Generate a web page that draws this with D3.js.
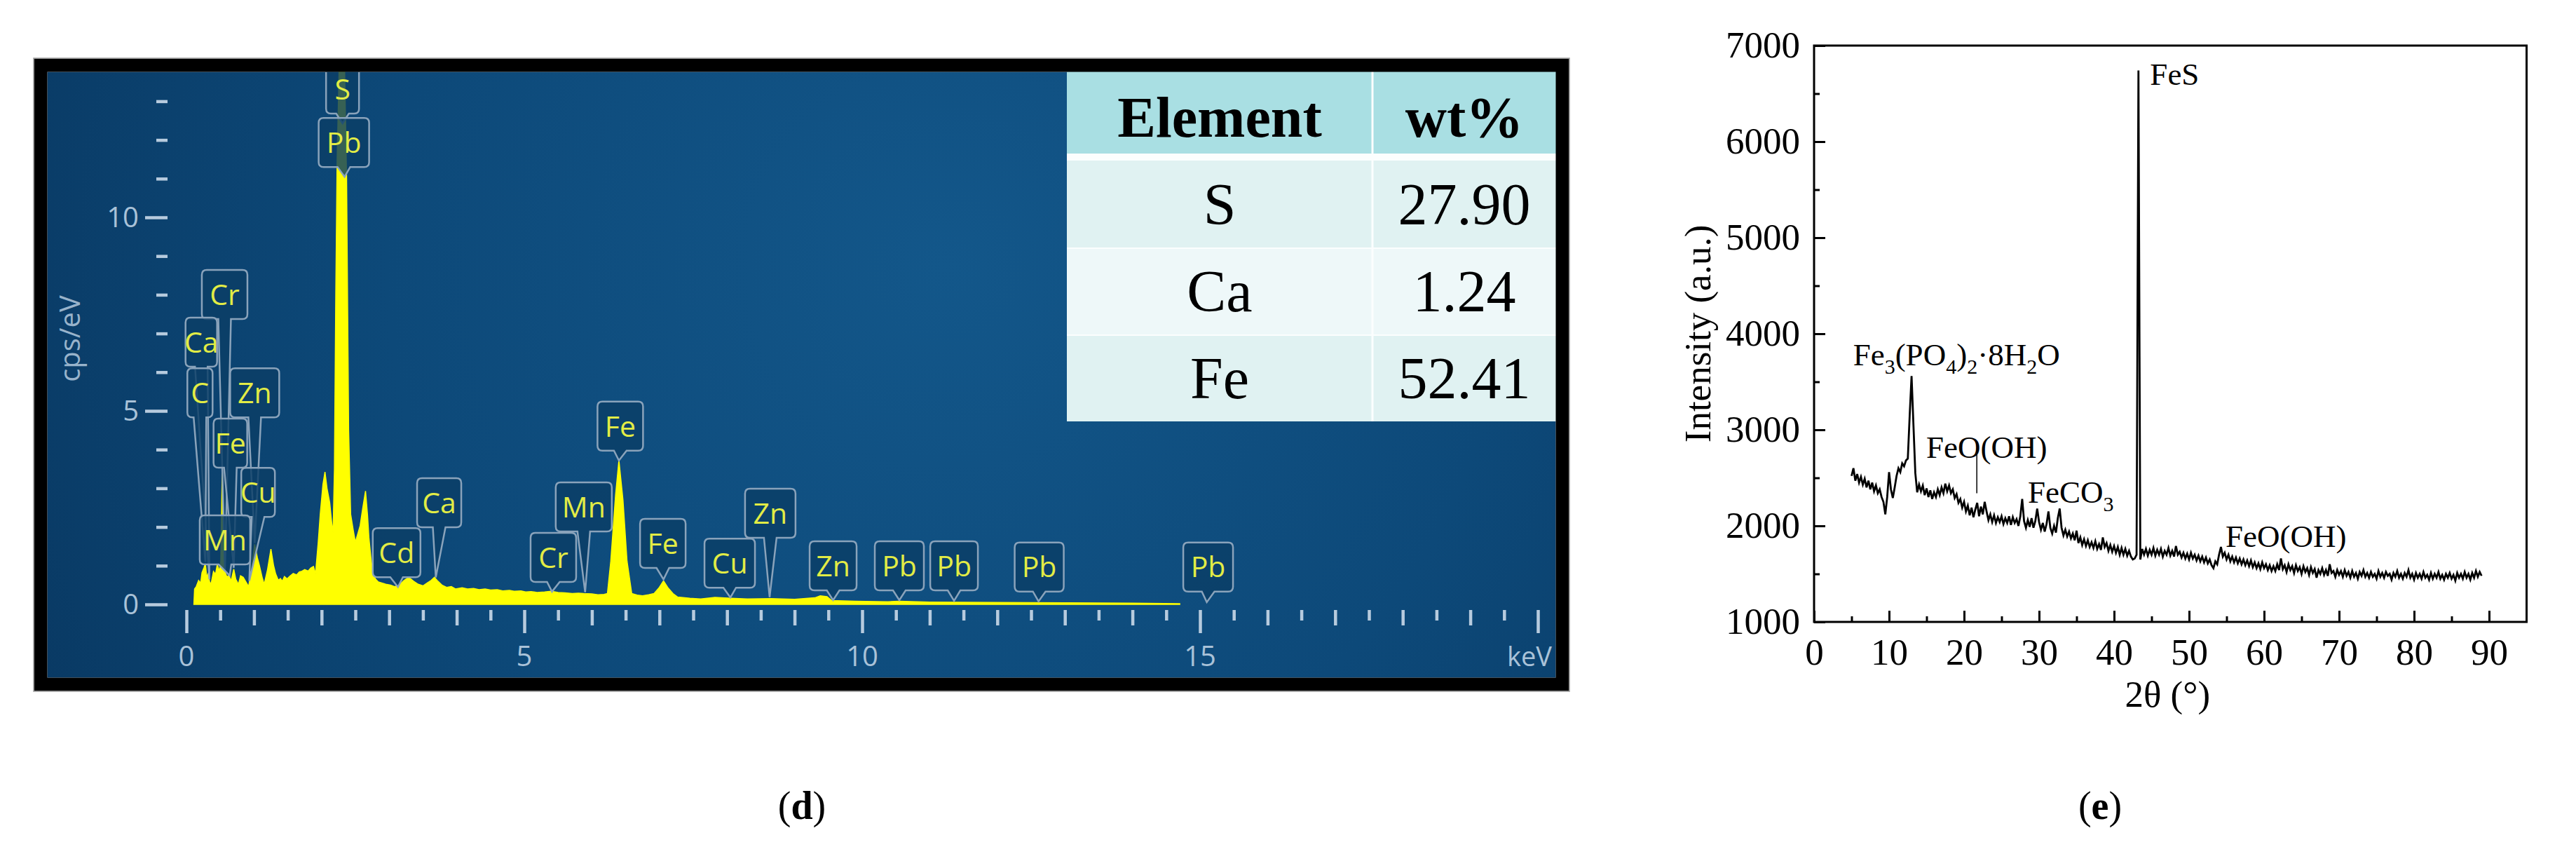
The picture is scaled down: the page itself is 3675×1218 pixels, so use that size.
<!DOCTYPE html>
<html>
<head>
<meta charset="utf-8">
<script src="https://cdn.jsdelivr.net/npm/d3@7"></script>
<style>
  body { margin: 0; background: #fff; }
  svg { display: block; }
</style>
</head>
<body>
<div id="chart"></div>
<script>
// ---------- panel (d): EDS spectrum ----------
const specKeV = [0.11, 0.12, 0.145, 0.18, 0.21, 0.23, 0.26, 0.28, 0.30, 0.32, 0.35, 0.37, 0.40, 0.43, 0.456, 0.49,
  0.508, 0.522, 0.532, 0.542, 0.56, 0.60, 0.63, 0.66, 0.70, 0.73, 0.77, 0.80, 0.84, 0.88, 0.92, 0.96,
  1.01, 1.05, 1.08, 1.12, 1.15, 1.20, 1.25, 1.29, 1.32, 1.36, 1.39, 1.42, 1.45, 1.49, 1.53, 1.58, 1.63, 1.67,
  1.70, 1.75, 1.80, 1.84, 1.88, 1.91, 1.95, 1.98, 2.02, 2.05, 2.08, 2.12, 2.15, 2.17, 2.19, 2.21, 2.23,
  2.26, 2.30, 2.34, 2.37, 2.40, 2.43, 2.47, 2.50, 2.54, 2.57, 2.61, 2.65, 2.68, 2.70, 2.73, 2.76, 2.80,
  2.84, 2.90, 2.95, 3.02, 3.08, 3.15, 3.22, 3.29, 3.36, 3.43, 3.50, 3.56, 3.62, 3.67, 3.72, 3.78, 3.85,
  3.92, 3.98, 4.08, 4.16, 4.25, 4.33, 4.42, 4.50, 4.60, 4.68, 4.78, 4.85, 4.95, 5.02, 5.10, 5.19, 5.30,
  5.40, 5.50, 5.60, 5.71, 5.80, 5.88, 6.00, 6.09, 6.18, 6.23, 6.28, 6.35, 6.40, 6.46, 6.52, 6.59, 6.67,
  6.75, 6.84, 6.92, 6.99, 7.06, 7.13, 7.20, 7.27, 7.45, 7.61, 7.82, 8.06, 8.30, 8.65, 9.00, 9.30, 9.38,
  9.48, 9.55, 9.90, 10.38, 10.55, 11.0, 11.97, 13.0, 14.0, 14.7];
const specCps = [0.0, 0.40, 0.46, 0.62, 0.55, 0.82, 0.95, 1.06, 0.70, 0.79, 0.52, 0.58, 0.85, 0.78, 1.03, 0.85,
  1.12, 2.60, 3.66, 2.40, 0.89, 0.70, 0.76, 0.60, 0.91, 0.65, 0.52, 0.74, 0.70, 0.58, 0.46, 0.90,
  1.55, 1.20, 1.00, 0.70, 0.52, 0.90, 1.43, 1.00, 0.79, 0.62, 0.67, 0.60, 0.72, 0.66, 0.73, 0.80, 0.76, 0.84,
  0.85, 0.90, 0.86, 0.94, 0.98, 0.79, 1.60, 2.33, 3.10, 3.42, 3.00, 2.63, 2.10, 1.85, 3.50, 8.0, 11.5,
  13.9, 14.5, 13.9, 11.0, 4.5, 2.33, 1.90, 1.61, 1.85, 2.03, 2.50, 2.93, 2.30, 1.73, 1.20, 0.79, 0.65,
  0.58, 0.55, 0.52, 0.50, 0.46, 0.50, 0.62, 0.70, 0.60, 0.52, 0.48, 0.55, 0.62, 0.70, 0.60, 0.50, 0.44,
  0.46, 0.40, 0.43, 0.40, 0.41, 0.38, 0.40, 0.37, 0.38, 0.35, 0.36, 0.34, 0.35, 0.32, 0.33, 0.31, 0.32,
  0.34, 0.31, 0.30, 0.28, 0.29, 0.28, 0.27, 0.25, 0.26, 0.28, 1.12, 2.81, 3.72, 2.70, 1.12, 0.28, 0.24,
  0.22, 0.25, 0.28, 0.42, 0.61, 0.42, 0.28, 0.19, 0.16, 0.14, 0.18, 0.16, 0.14, 0.15, 0.13, 0.17, 0.22,
  0.20, 0.10, 0.08, 0.07, 0.08, 0.06, 0.05, 0.04, 0.03, 0.02];

// peak markers: element and line energy (keV)
const peakElements = ["S", "Pb", "Cr", "Ca", "C", "Zn", "Fe", "Cu", "Mn", "Cd", "Ca", "Cr", "Mn",
  "Fe", "Fe", "Cu", "Zn", "Zn", "Pb", "Pb", "Pb", "Pb"];
const peakKeV = [2.31, 2.34, 0.57, 0.34, 0.28, 1.01, 0.70, 0.93, 0.64, 3.13, 3.69, 5.41, 5.90,
  6.40, 7.06, 8.05, 8.63, 9.57, 10.55, 11.36, 12.61, 15.1];

const edsXTicks = [0, 5, 10, 15];
const edsYTicks = [0, 5, 10];

// quantification table
const tableHeader = ["Element", "wt%"];
const tableElements = ["S", "Ca", "Fe"];
const tableWt = ["27.90", "1.24", "52.41"];

// ---------- panel (e): XRD pattern ----------
// intensity every 0.25 deg, one row per degree starting at 5 deg
const xrdRows = [
  [2520, 2600, 2470, 2540], [2450, 2510, 2430, 2490], [2400, 2470, 2380, 2450], [2360, 2420, 2340, 2380],
  [2300, 2250, 2120, 2300], [2560, 2380, 2290, 2400], [2520, 2600, 2560, 2650], [2620, 2680, 2700, 3150],
  [3560, 3050, 2550, 2350], [2430, 2360, 2420, 2320], [2390, 2300, 2370, 2280], [2350, 2300, 2380, 2320],
  [2400, 2340, 2440, 2360], [2420, 2340, 2380, 2290], [2330, 2240, 2280, 2190], [2250, 2150, 2210, 2110],
  [2190, 2090, 2170, 2240], [2100, 2200, 2120, 2250], [2150, 2060, 2120, 2040], [2110, 2030, 2090, 2040],
  [2100, 2020, 2080, 2030], [2100, 2010, 2090, 2030], [2070, 2000, 2100, 2280], [2050, 1980, 2060, 1990],
  [2080, 1980, 2050, 2180], [2040, 1960, 2030, 1940], [2020, 2150, 1980, 1920], [2000, 1930, 2080, 2180],
  [1980, 1900, 1960, 1890], [1940, 1870, 1920, 1850], [1950, 1820, 1880, 1800], [1860, 1790, 1850, 1780],
  [1830, 1770, 1840, 1760], [1810, 1750, 1880, 1780], [1820, 1740, 1800, 1730], [1790, 1720, 1780, 1700],
  [1770, 1700, 1760, 1690], [1740, 1680, 1650, 1660], [1700, 6740, 1650, 1760], [1700, 1760, 1690, 1750],
  [1700, 1770, 1690, 1750], [1700, 1760, 1680, 1740], [1700, 1770, 1690, 1740], [1680, 1790, 1700, 1730],
  [1670, 1720, 1660, 1710], [1650, 1720, 1660, 1700], [1640, 1690, 1630, 1680], [1620, 1670, 1610, 1650],
  [1590, 1560, 1630, 1600], [1700, 1780, 1680, 1720], [1650, 1700, 1630, 1680], [1620, 1670, 1610, 1660],
  [1600, 1650, 1590, 1640], [1580, 1640, 1570, 1620], [1560, 1610, 1550, 1620], [1560, 1600, 1540, 1590],
  [1530, 1580, 1530, 1600], [1540, 1660, 1550, 1590], [1520, 1600, 1540, 1580], [1510, 1590, 1530, 1570],
  [1500, 1580, 1520, 1560], [1490, 1570, 1510, 1550], [1460, 1540, 1500, 1560], [1490, 1540, 1480, 1600],
  [1510, 1530, 1470, 1540], [1490, 1530, 1470, 1540], [1480, 1520, 1460, 1530], [1470, 1510, 1450, 1520],
  [1480, 1540, 1470, 1510], [1460, 1520, 1470, 1500], [1450, 1530, 1470, 1510], [1460, 1520, 1480, 1500],
  [1440, 1510, 1470, 1530], [1460, 1500, 1450, 1510], [1470, 1540, 1460, 1500], [1440, 1510, 1460, 1500],
  [1450, 1520, 1460, 1490], [1440, 1510, 1450, 1500], [1460, 1520, 1450, 1490], [1440, 1500, 1460, 1510],
  [1450, 1490, 1430, 1510], [1460, 1500, 1450, 1520], [1460, 1500, 1440, 1510], [1460, 1530, 1470, 1520],
  [1480]
];
const xrdStart = 5, xrdStep = 0.25;

const xrdXTicks = [0, 10, 20, 30, 40, 50, 60, 70, 80, 90];
const xrdYTicks = [1000, 2000, 3000, 4000, 5000, 6000, 7000];

// phase labels ("_n" = subscript digit)
const phaseNames = ["FeS", "Fe_3(PO_4)_2·8H_2O", "FeO(OH)", "FeCO_3", "FeO(OH)"];
const phasePeak = [43.25, 13.0, 21.7, 32.7, 54.3];

// ---------- drawing ----------
const W = 3675, H = 1218;
const svg = d3.select("#chart").append("svg")
  .attr("width", W).attr("height", H)
  .style("background", "#fff");

const defs = svg.append("defs");

// ===== EDS panel =====
const inner = {x: 67.5, y: 102.5, w: 2152, h: 864};

const bg = defs.append("radialGradient")
  .attr("id", "edsBg")
  .attr("gradientUnits", "userSpaceOnUse")
  .attr("cx", 1350).attr("cy", 380).attr("r", 1450);
bg.append("stop").attr("offset", "0%").attr("stop-color", "#13578a");
bg.append("stop").attr("offset", "55%").attr("stop-color", "#0d4979");
bg.append("stop").attr("offset", "100%").attr("stop-color", "#093963");

defs.append("clipPath").attr("id", "edsClip")
  .append("rect")
  .attr("x", inner.x).attr("y", inner.y)
  .attr("width", inner.w).attr("height", inner.h);

const eds = svg.append("g").attr("class", "eds");

eds.append("rect")
  .attr("x", inner.x).attr("y", inner.y)
  .attr("width", inner.w).attr("height", inner.h)
  .attr("fill", "url(#edsBg)");

const xE = d3.scaleLinear().domain([0, 20]).range([266, 2194]);
const yE = d3.scaleLinear().domain([0, 13]).range([862, 862 - 13 * 55.2]);

const tickColor = "#b7cbde";
const edsFont = "'Open Sans', 'Noto Sans', sans-serif";

// x ticks: half keV short, whole keV medium, every 5 keV long
function edsXAxis(values, len) {
  eds.append("g")
    .attr("transform", "translate(0,870)")
    .call(d3.axisBottom(xE).tickValues(values).tickSizeInner(len).tickSizeOuter(0).tickFormat(""))
    .call(g => g.select(".domain").remove())
    .call(g => g.selectAll("line").attr("stroke", tickColor).attr("stroke-width", 4.5));
}
edsXAxis(d3.range(0.5, 20, 1), 15);
edsXAxis(d3.range(1, 20, 1).filter(d => d % 5 !== 0), 22);
edsXAxis([0, 5, 10, 15, 20], 33);

eds.selectAll(".xlab").data(edsXTicks).enter().append("text")
  .attr("class", "xlab")
  .attr("x", d => xE(d))
  .attr("y", 950)
  .attr("text-anchor", "middle")
  .attr("font-family", edsFont)
  .attr("font-size", 40)
  .attr("fill", "#a9c2d8")
  .text(d => d);

eds.append("text")
  .attr("x", 2214).attr("y", 950)
  .attr("text-anchor", "end")
  .attr("font-family", edsFont)
  .attr("font-size", 38)
  .attr("fill", "#a9c2d8")
  .text("keV");

// y ticks
function edsYAxis(values, len) {
  eds.append("g")
    .attr("transform", "translate(239,0)")
    .call(d3.axisLeft(yE).tickValues(values).tickSizeInner(len).tickSizeOuter(0).tickFormat(""))
    .call(g => g.select(".domain").remove())
    .call(g => g.selectAll("line").attr("stroke", tickColor).attr("stroke-width", 4.5));
}
edsYAxis(d3.range(1, 14).filter(d => d % 5 !== 0), 16);
edsYAxis(edsYTicks, 32);

eds.selectAll(".ylab").data(edsYTicks).enter().append("text")
  .attr("class", "ylab")
  .attr("x", 198)
  .attr("y", d => yE(d))
  .attr("dy", "0.36em")
  .attr("text-anchor", "end")
  .attr("font-family", edsFont)
  .attr("font-size", 40)
  .attr("fill", "#a9c2d8")
  .text(d => d);

eds.append("text")
  .attr("transform", "translate(114,483) rotate(-90)")
  .attr("text-anchor", "middle")
  .attr("font-family", edsFont)
  .attr("font-size", 40)
  .attr("fill", "#98b3cb")
  .text("cps/eV");

// spectrum
const spec = specKeV.map((k, i) => ({k, c: specCps[i]}));
const plot = eds.append("g").attr("clip-path", "url(#edsClip)");

plot.append("path")
  .datum(spec)
  .attr("fill", "#ffff00")
  .attr("stroke", "#ffff00")
  .attr("stroke-width", 1.5)
  .attr("d", d3.area().x(d => xE(d.k)).y0(yE(0)).y1(d => yE(d.c)));

// peak label callouts (box centre in keV, box top in cps/eV, width px)
const calloutLayout = [
  [2.31, 13.95, 47], [2.33, 12.57, 72], [0.565, 8.64, 65], [0.22, 7.41, 45], [0.20, 6.1, 36],
  [1.01, 6.1, 70], [0.65, 4.8, 48], [1.06, 3.53, 48], [0.57, 2.3, 72], [3.11, 1.97, 68],
  [3.74, 3.26, 63], [5.43, 1.85, 65], [5.88, 3.15, 80], [6.42, 5.24, 65], [7.05, 2.21, 65],
  [8.04, 1.70, 72], [8.64, 2.99, 72], [9.57, 1.63, 67], [10.55, 1.63, 70], [11.36, 1.63, 68],
  [12.62, 1.60, 70], [15.12, 1.60, 71]
];
const boxH = 70;
const specAt = d3.scaleLinear().domain(specKeV).range(specCps).clamp(true);

function calloutPath(cx, top, w, tipX, tipY) {
  const r = 7, l = cx - w / 2, rt = cx + w / 2, b = top + boxH, n = 9;
  return `M${l + r},${top} H${rt - r} Q${rt},${top} ${rt},${top + r} V${b - r} Q${rt},${b} ${rt - r},${b}` +
    ` H${cx + n} L${tipX},${tipY} L${cx - n},${b} H${l + r} Q${l},${b} ${l},${b - r} V${top + r} Q${l},${top} ${l + r},${top} Z`;
}

const callouts = plot.selectAll(".callout")
  .data(peakElements.map((el, i) => ({el, keV: peakKeV[i], box: calloutLayout[i]})))
  .enter().append("g").attr("class", "callout");

callouts.append("path")
  .attr("d", d => {
    const cx = xE(d.box[0]), top = yE(d.box[1]), w = d.box[2];
    const tipX = xE(d.keV);
    const tipY = Math.max(top + boxH + 14, yE(specAt(d.keV)) - 2);
    return calloutPath(cx, top, w, tipX, tipY);
  })
  .attr("fill", "#0b3e67")
  .attr("fill-opacity", 0.82)
  .attr("stroke", "#8aa3bb")
  .attr("stroke-width", 2.5);

callouts.append("text")
  .attr("x", d => xE(d.box[0]))
  .attr("y", d => yE(d.box[1]) + boxH / 2)
  .attr("dy", "0.36em")
  .attr("text-anchor", "middle")
  .attr("font-family", edsFont)
  .attr("font-size", 41)
  .attr("fill", "#e2ec45")
  .text(d => d.el);

// table
const tbl = {x: 1522, right: 2220, split: 1958, top: 102, headH: 117, gap: 10, rowH: 124};
const rowFill = ["#e0f2f2", "#eef8f9", "#e0f2f2"];
const serif = "'Liberation Serif', 'Times New Roman', serif";
const tg = eds.append("g").attr("class", "table");
tg.append("rect")
  .attr("x", tbl.x).attr("y", tbl.top)
  .attr("width", tbl.right - tbl.x).attr("height", tbl.headH + tbl.gap + 3 * tbl.rowH)
  .attr("fill", "#fbfefe");
tg.append("rect")
  .attr("x", tbl.x).attr("y", tbl.top)
  .attr("width", tbl.right - tbl.x).attr("height", tbl.headH)
  .attr("fill", "#a9dfe3");
tableElements.forEach((el, i) => {
  const y0 = tbl.top + tbl.headH + tbl.gap + i * tbl.rowH;
  tg.append("rect")
    .attr("x", tbl.x).attr("y", y0 + (i ? 2 : 0))
    .attr("width", tbl.right - tbl.x).attr("height", tbl.rowH - (i ? 2 : 0))
    .attr("fill", rowFill[i]);
  [el, tableWt[i]].forEach((t, j) => {
    tg.append("text")
      .attr("x", j ? (tbl.split + tbl.right) / 2 : (tbl.x + tbl.split) / 2)
      .attr("y", y0 + tbl.rowH / 2 + 29)
      .attr("text-anchor", "middle")
      .attr("font-family", serif)
      .attr("font-size", 84)
      .attr("fill", "#000")
      .text(t);
  });
});
tg.append("line")
  .attr("x1", tbl.split).attr("x2", tbl.split)
  .attr("y1", tbl.top).attr("y2", tbl.top + tbl.headH + tbl.gap + 3 * tbl.rowH)
  .attr("stroke", "#fbfefe").attr("stroke-width", 3);
tableHeader.forEach((t, j) => {
  tg.append("text")
    .attr("x", j ? (tbl.split + tbl.right) / 2 : (tbl.x + tbl.split) / 2)
    .attr("y", tbl.top + tbl.headH / 2 + 34)
    .attr("text-anchor", "middle")
    .attr("font-family", serif)
    .attr("font-weight", "bold")
    .attr("font-size", 82)
    .attr("fill", "#000")
    .text(t);
});

// black frame
eds.append("rect")
  .attr("x", 58).attr("y", 93)
  .attr("width", 2171).attr("height", 883)
  .attr("fill", "none")
  .attr("stroke", "#000")
  .attr("stroke-width", 19);
eds.append("rect")
  .attr("x", 48).attr("y", 83)
  .attr("width", 2191).attr("height", 903)
  .attr("fill", "none")
  .attr("stroke", "#9a9a9a")
  .attr("stroke-width", 1.5);

// ===== XRD panel =====
const xX = d3.scaleLinear().domain([0, 95]).range([2588, 3604.5]);
const yX = d3.scaleLinear().domain([1000, 7000]).range([887, 65]);
const xrd = svg.append("g").attr("class", "xrd");

const xrdData = xrdRows.flat().map((v, i) => ({a: xrdStart + i * xrdStep, v}));

xrd.append("path")
  .datum(xrdData)
  .attr("fill", "none")
  .attr("stroke", "#000")
  .attr("stroke-width", 2.8)
  .attr("stroke-linejoin", "miter")
  .attr("d", d3.line().x(d => xX(d.a)).y(d => yX(d.v)));

function styleAxis(g) {
  g.attr("font-family", serif).attr("font-size", 53);
  g.select(".domain").remove();
  g.selectAll("line").attr("stroke", "#000").attr("stroke-width", 3);
  g.selectAll("text").attr("font-family", serif).attr("font-size", 53).attr("fill", "#000");
}

xrd.append("g")
  .attr("transform", `translate(0,${yX(1000)})`)
  .call(d3.axisBottom(xX).tickValues(d3.range(5, 95, 10)).tickSizeInner(-8).tickSizeOuter(0).tickFormat(""))
  .call(styleAxis);
xrd.append("g")
  .attr("transform", `translate(0,${yX(1000)})`)
  .call(d3.axisBottom(xX).tickValues(xrdXTicks).tickSizeInner(-16).tickSizeOuter(0).tickPadding(23)
    .tickFormat(d3.format("d")))
  .call(styleAxis);
xrd.append("g")
  .attr("transform", `translate(${xX(0)},0)`)
  .call(d3.axisLeft(yX).tickValues(d3.range(1500, 7000, 1000)).tickSizeInner(-8).tickSizeOuter(0).tickFormat(""))
  .call(styleAxis);
xrd.append("g")
  .attr("transform", `translate(${xX(0)},0)`)
  .call(d3.axisLeft(yX).tickValues(xrdYTicks).tickSizeInner(-16).tickSizeOuter(0).tickPadding(20)
    .tickFormat(d3.format("d")))
  .call(styleAxis);

xrd.append("rect")
  .attr("x", xX(0)).attr("y", yX(7000))
  .attr("width", xX(95) - xX(0)).attr("height", yX(1000) - yX(7000))
  .attr("fill", "none")
  .attr("stroke", "#000")
  .attr("stroke-width", 3);

xrd.append("text")
  .attr("x", (xX(0) + xX(95)) / 2 - 4)
  .attr("y", 1008)
  .attr("text-anchor", "middle")
  .attr("font-family", serif)
  .attr("font-size", 53)
  .text("2θ (°)");

xrd.append("text")
  .attr("transform", `translate(2440,${(yX(1000) + yX(7000)) / 2}) rotate(-90)`)
  .attr("text-anchor", "middle")
  .attr("font-family", serif)
  .attr("font-size", 53)
  .text("Intensity (a.u.)");

// phase labels: left edge angle / baseline intensity
const phaseLayout = [[44.8, 6590], [5.2, 3670], [14.95, 2708], [28.5, 2241], [54.86, 1781]];

function chemText(sel, str) {
  let sub = false;
  str.split(/(_\d)/).filter(s => s).forEach(p => {
    if (p[0] === "_") {
      sel.append("tspan").attr("font-size", 30).attr("dy", sub ? 0 : 12).text(p[1]);
      sub = true;
    } else {
      sel.append("tspan").attr("dy", sub ? -12 : 0).text(p);
      sub = false;
    }
  });
}

phaseNames.forEach((name, i) => {
  const t = xrd.append("text")
    .attr("x", xX(phaseLayout[i][0]))
    .attr("y", yX(phaseLayout[i][1]))
    .attr("font-family", serif)
    .attr("font-size", 45)
    .attr("fill", "#000");
  chemText(t, name);
});

// leader line for the first FeO(OH) peak
xrd.append("line")
  .attr("x1", xX(phasePeak[2])).attr("x2", xX(phasePeak[2]))
  .attr("y1", yX(2780)).attr("y2", yX(2340))
  .attr("stroke", "#000").attr("stroke-width", 1.5);

// ===== captions =====
[["d", 1144], ["e", 2996]].forEach(([c, x]) => {
  const t = svg.append("text")
    .attr("x", x).attr("y", 1168)
    .attr("text-anchor", "middle")
    .attr("font-family", serif)
    .attr("font-size", 56)
    .attr("fill", "#000");
  t.append("tspan").text("(");
  t.append("tspan").attr("font-weight", "bold").text(c);
  t.append("tspan").text(")");
});
</script>
</body>
</html>
